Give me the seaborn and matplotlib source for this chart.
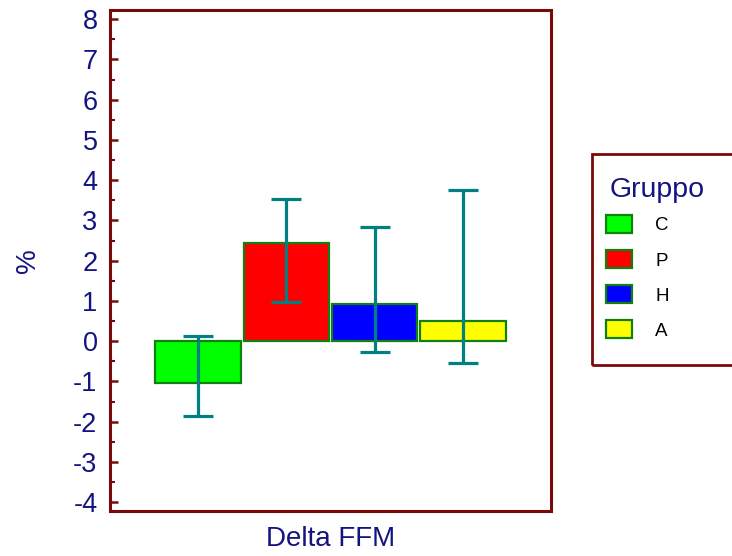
import matplotlib
matplotlib.use("Agg")
import matplotlib.pyplot as plt
from matplotlib.patches import Patch, Rectangle
from matplotlib.ticker import MultipleLocator
import numpy as np
import pandas as pd
import seaborn as sns

# Mean change in fat-free mass (%) per group, with error bar limits
groups = ["C", "P", "H", "A"]
means = [-1.05, 2.44, 0.93, 0.49]
err_low = [-1.86, 0.97, -0.26, -0.55]
err_high = [0.14, 3.54, 2.84, 3.76]
colors = ["#00ff00", "#ff0000", "#0000ff", "#ffff00"]
y_ticks = [-4, -3, -2, -1, 0, 1, 2, 3, 4, 5, 6, 7, 8]

text_col = "#141480"
frame_col = "#7a0a0a"
edge_col = "#108010"
err_col = "#008080"

sns.set_style("white")
plt.rcParams["font.family"] = ["Liberation Sans", "DejaVu Sans"]

df = pd.DataFrame({"group": groups, "mean": means})

W, H = 732, 556
fig = plt.figure(figsize=(W / 100, H / 100), dpi=100)
ax = fig.add_axes([110 / W, 1 - 511 / H, 441 / W, 501 / H])

sns.barplot(data=df, x="group", y="mean", hue="group", palette=colors,
            width=0.97, edgecolor=edge_col, linewidth=1.6, legend=False,
            errorbar=None, ax=ax, saturation=1)

x = np.arange(len(groups))
lo = np.array(means) - np.array(err_low)
hi = np.array(err_high) - np.array(means)
ax.errorbar(x, means, yerr=[lo, hi], fmt="none", ecolor=err_col,
            elinewidth=2.3, capsize=10.8, capthick=2.3, zorder=5)

ax.set_xlim(-1, 4)
ax.set_ylim(-4.22, 8.23)
ax.set_yticks(y_ticks)
ax.yaxis.set_minor_locator(MultipleLocator(0.5))
ax.set_xticks([])
ax.tick_params(axis="y", which="major", direction="in", length=6, width=1.8,
               color=frame_col, labelsize=19.5, labelcolor=text_col, pad=9, left=True)
ax.tick_params(axis="y", which="minor", direction="in", length=3.5, width=1.5,
               color=frame_col, left=True)
ax.set_yticklabels([str(t) for t in y_ticks])
for s in ax.spines.values():
    s.set_color(frame_col)
    s.set_linewidth(2.2)

ax.set_xlabel("Delta FFM", fontsize=20, color=text_col, labelpad=11)
ax.set_ylabel("%", fontsize=20, color=text_col, labelpad=23)

# Legend frame, title and entries
fig.patches.append(Rectangle((592 / W, 1 - 365 / H), 150 / W, 211 / H,
                             transform=fig.transFigure, fill=False,
                             edgecolor=frame_col, linewidth=2.0))
fig.text(610 / W, 1 - 197 / H, "Gruppo", fontsize=20.5, color=text_col,
         ha="left", va="baseline")
handles = [Patch(facecolor=c, edgecolor=edge_col, linewidth=1.6) for c in colors]
fig.legend(handles, groups, loc="upper left",
           bbox_to_anchor=(605.7 / W, 1 - 215 / H), frameon=False,
           fontsize=13.5, borderpad=0, borderaxespad=0,
           handlelength=1.42, handleheight=1.1, handletextpad=1.23,
           labelspacing=0.84, labelcolor="black")

fig.savefig("out.png", dpi=100)
